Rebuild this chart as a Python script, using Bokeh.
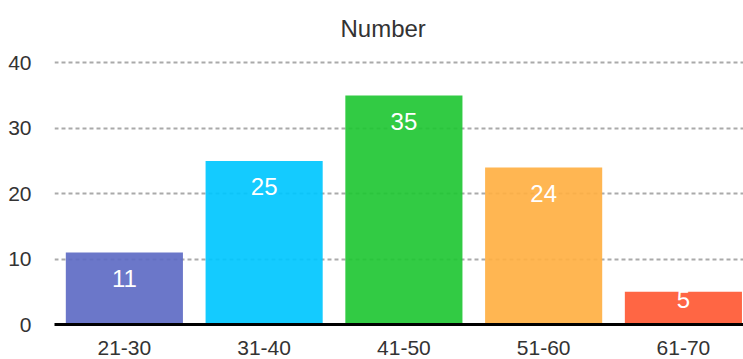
from bokeh.plotting import figure
from bokeh.models import Range1d, FixedTicker, ColumnDataSource
from bokeh.core.properties import value
from bokeh.embed import file_html
from bokeh.resources import INLINE

categories = ["21-30", "31-40", "41-50", "51-60", "61-70"]
counts = [11, 25, 35, 24, 5]
colors = ["#5e6bc4", "#00c7ff", "#21c734", "#ffb043", "#ff5934"]
y_ticks = [0, 10, 20, 30, 40]

idx = list(range(len(categories)))
src = ColumnDataSource(dict(
    x=idx, top=counts, color=colors,
    label=[str(c) for c in counts],
    dy=[26 if c >= 10 else 8 for c in counts],
))

FONT = "Liberation Sans"

p = figure(width=743, height=359, output_backend="svg", toolbar_location=None,
           x_range=Range1d(-0.5, 4.43), y_range=Range1d(0, 42.66),
           min_border_left=54, min_border_right=0, min_border_top=45,
           min_border_bottom=35, title="Number")
p.outline_line_color = None
p.background_fill_color = "white"
p.border_fill_color = "white"

p.title.text_font = FONT
p.title.text_font_size = "24px"
p.title.text_font_style = "normal"
p.title.text_color = "#333333"
p.title.align = "left"
p.title.offset = 286
p.title.standoff = 8

p.xgrid.grid_line_color = None
p.ygrid.ticker = FixedTicker(ticks=y_ticks)
p.ygrid.grid_line_color = "#aaaaaa"
p.ygrid.grid_line_width = 2
p.ygrid.grid_line_dash = "4 3"

p.vbar(x="x", top="top", width=0.838, bottom=0, fill_color="color",
       line_color=None, fill_alpha=0.92, source=src)

p.text(x="x", y="top", text="label", source=src, y_offset="dy",
       text_align="center", text_baseline="middle", text_color="white",
       text_font=value(FONT), text_font_size="24px")

p.xaxis.ticker = FixedTicker(ticks=idx)
p.xaxis.major_label_overrides = {i: c for i, c in zip(idx, categories)}
p.xaxis.axis_line_color = "black"
p.xaxis.axis_line_width = 3
p.xaxis.major_tick_line_color = None
p.xaxis.minor_tick_line_color = None
p.xaxis.major_label_standoff = 10
p.xaxis.major_label_text_font = FONT
p.xaxis.major_label_text_font_size = "21px"
p.xaxis.major_label_text_color = "#333333"

p.yaxis.ticker = FixedTicker(ticks=y_ticks)
p.yaxis.axis_line_color = None
p.yaxis.major_tick_line_color = None
p.yaxis.minor_tick_line_color = None
p.yaxis.major_label_standoff = 17
p.yaxis.major_label_text_font = FONT
p.yaxis.major_label_text_font_size = "21px"
p.yaxis.major_label_text_color = "#333333"

open("out.html", "w").write(file_html(p, INLINE))
